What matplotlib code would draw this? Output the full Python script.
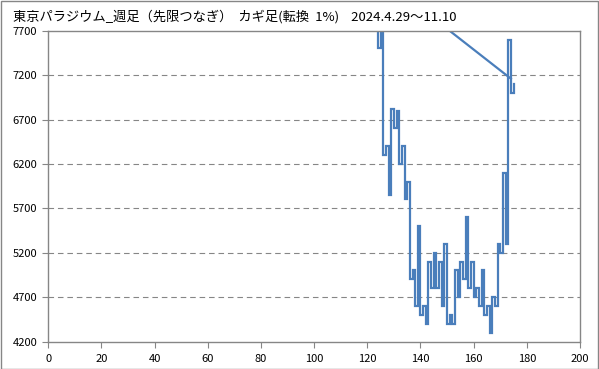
import numpy as np
import matplotlib.pyplot as plt
from matplotlib.patches import Rectangle

plt.rcParams['font.family'] = ['Noto Sans CJK JP', 'DejaVu Sans']

title = "東京パラジウム_週足（先限つなぎ）  カギ足(転換  1%)    2024.4.29〜11.10"

# kagi turning levels, one vertical stroke per step on the x axis
kagi_start = 124
kagi_levels = [7950, 7500, 7850, 6300, 6400, 5850, 6820, 6600, 6800, 6200,
               6400, 5800, 6000, 4900, 5000, 4600, 5500, 4500, 4600, 4400,
               5100, 4800, 5200, 4800, 5100, 4600, 5300, 4400, 4500, 4400,
               5000, 4700, 5100, 4900, 5600, 4800, 5100, 4700, 4800, 4600,
               5000, 4500, 4600, 4300, 4700, 4600, 5300, 5200, 6100, 5300,
               7600, 7000, 7100]

# stray segment that runs in from the top left
link_x = [124, 174]
link_y = [8330, 7160]

x_ticks = list(range(0, 201, 20))
y_ticks = list(range(4200, 7701, 500))

line_col = '#4A7EBB'
grey = '#868686'

# build the step path: vertical at x, then horizontal to x+1
px = []
py = []
for i in range(1, len(kagi_levels)):
    x = kagi_start + i - 1
    px += [x, x]
    py += [kagi_levels[i - 1], kagi_levels[i]]

fig = plt.figure(figsize=(5.99, 3.69), dpi=100)
ax = fig.add_axes([48.3 / 599, 1 - 341.5 / 369, (580 - 48.3) / 599, (341.5 - 30.7) / 369])

ax.plot(px, py, color=line_col, lw=1.6, solid_joinstyle='miter')
ax.plot(link_x, link_y, color=line_col, lw=1.6)

ax.set_xlim(0, 200)
ax.set_ylim(4200, 7700)
ax.set_xticks(x_ticks)
ax.set_yticks(y_ticks)

for y in y_ticks[1:-1]:
    ax.axhline(y, color=grey, lw=0.8, linestyle=(0, (5, 3.5)), zorder=0)

for s in ax.spines.values():
    s.set_color(grey)
    s.set_linewidth(1.0)

ax.tick_params(axis='both', direction='out', length=4, width=0.8, color=grey,
               labelsize=8, labelcolor='black')
ax.tick_params(axis='y', pad=4)
ax.tick_params(axis='x', pad=5)

fig.text(13 / 599, 1 - 17 / 369, title, fontsize=9.5, ha='left', va='center')

# outer chart border
fig.patches.append(Rectangle((0.5 / 599, 0.5 / 369), 597.5 / 599, 367.5 / 369,
                             transform=fig.transFigure, fill=False,
                             edgecolor=grey, lw=1.0))

fig.savefig('out.png', dpi=100)
